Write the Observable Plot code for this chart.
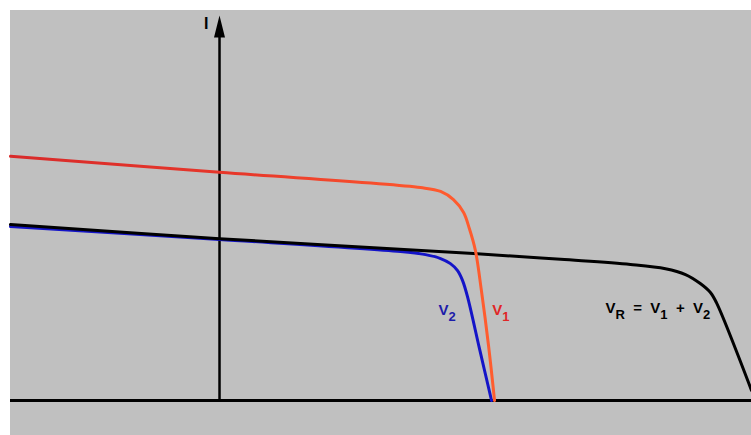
<!DOCTYPE html>
<html>
<head>
<meta charset="utf-8">
<script src="https://cdn.jsdelivr.net/npm/d3@7"></script>
<script src="https://cdn.jsdelivr.net/npm/@observablehq/plot@0.6"></script>
<style>
  body { margin: 0; background: #ffffff; }
  #chart { position: absolute; left: 10px; top: 10px; }
</style>
</head>
<body>
<div id="chart"></div>
<script>
// Voltage (V) and current (I) samples
const v1V = [-7.63, 0, 7.34, 8.07, 8.54, 8.91, 9.12, 9.34, 9.56, 9.82, 10.04];
const v1I = [6.26, 5.85, 5.46, 5.36, 5.15, 4.82, 4.41, 3.85, 2.82, 1.41, 0];

const v2V = [-7.63, 0, 6.61, 7.52, 8.07, 8.43, 8.69, 8.87, 9.05, 9.49, 9.93];
const v2I = [4.46, 4.13, 3.82, 3.74, 3.64, 3.51, 3.33, 3.08, 2.67, 1.33, 0];

const vrV = [-7.63, 0, 9.27, 12.45, 15.00, 16.28, 17.01, 17.55, 17.92, 18.14, 19.42];
const vrI = [4.51, 4.15, 3.77, 3.62, 3.49, 3.38, 3.23, 3.00, 2.77, 2.51, 0.26];

const labelTexts = ["V_2", "V_1", "V_R  =  V_1  +  V_2"];
const labelV = [7.99, 9.96, 14.09];
const labelI = [2.32, 2.32, 2.37];

const axisLabel = "I";
const axisLabelV = -0.40;
const axisLabelI = 9.65;
const arrowTipI = 9.87;
const arrowBaseI = 9.33;

const xDomain = [-7.63, 19.42];
const yDomain = [0, 10];

const toRows = (vs, is) => vs.map((v, k) => ({V: v, I: is[k]}));
const v1 = toRows(v1V, v1I);
const v2 = toRows(v2V, v2I);
const vr = toRows(vrV, vrI);
const labelColors = ["#1c1caa", "#e02626", "#000000"];
const labels = labelTexts.map((t, k) => ({text: t, V: labelV[k], I: labelI[k], color: labelColors[k]}));

const arrowHead = {
  draw(context) {
    context.moveTo(0, 0);
    context.lineTo(5.5, 22);
    context.lineTo(-5.5, 22);
    context.closePath();
  }
};

const chart = Plot.plot({
  width: 741,
  height: 425,
  marginLeft: 0,
  marginRight: 0,
  marginTop: 0,
  marginBottom: 35,
  x: {domain: xDomain, axis: null},
  y: {domain: yDomain, axis: null},
  style: {background: "#c0c0c0", overflow: "visible"},
  marks: [
    Plot.ruleY([0], {stroke: "#000", strokeWidth: 3}),
    Plot.ruleX([0], {y1: 0, y2: arrowBaseI, stroke: "#000", strokeWidth: 2.5}),
    Plot.dot([{V: 0, I: arrowTipI}], {x: "V", y: "I", symbol: arrowHead, fill: "#000", stroke: "none"}),
    Plot.text([{V: axisLabelV, I: axisLabelI}], {x: "V", y: "I", text: () => axisLabel, textAnchor: "end", fontSize: 16, fontWeight: "bold", fill: "#000", fontFamily: "Liberation Sans"}),
    Plot.line(v2, {x: "V", y: "I", stroke: "#1414c8", strokeWidth: 3, curve: "catmull-rom"}),
    Plot.line(vr, {x: "V", y: "I", stroke: "#000000", strokeWidth: 3, curve: "catmull-rom"}),
    Plot.line(v1, {x: "V", y: "I", stroke: "#ee4a2a", strokeWidth: 3, curve: "catmull-rom"}),
    Plot.text(labels, {x: "V", y: "I", text: "text", textAnchor: "start", fontSize: 15, fontWeight: "bold", fontFamily: "Liberation Sans", fill: "color"})
  ]
});

document.getElementById("chart").appendChild(chart);

const svgNS = "http://www.w3.org/2000/svg";
try {
  // gradient red -> orange for V1 curve
  const defs = document.createElementNS(svgNS, "defs");
  const grad = document.createElementNS(svgNS, "linearGradient");
  grad.setAttribute("id", "v1grad");
  grad.setAttribute("gradientUnits", "userSpaceOnUse");
  grad.setAttribute("x1", "0"); grad.setAttribute("x2", "741");
  grad.setAttribute("y1", "0"); grad.setAttribute("y2", "0");
  [["0", "#d82a2a"], ["0.32", "#e8382a"], ["0.58", "#ff5a2e"], ["1", "#ff6a30"]].forEach(([o, c]) => {
    const s = document.createElementNS(svgNS, "stop");
    s.setAttribute("offset", o); s.setAttribute("stop-color", c);
    grad.appendChild(s);
  });
  defs.appendChild(grad);
  chart.insertBefore(defs, chart.firstChild);
  const lineGroups = chart.querySelectorAll('g[aria-label="line"]');
  if (lineGroups.length >= 3) {
    const g = lineGroups[2];
    g.setAttribute("stroke", "url(#v1grad)");
    g.querySelectorAll("path").forEach(p => p.setAttribute("stroke", "url(#v1grad)"));
  }
} catch (e) { console.error(e); }

// subscripts
const textGroups = chart.querySelectorAll('g[aria-label="text"]');
const labelGroup = textGroups[textGroups.length - 1];
labelGroup.querySelectorAll("text").forEach(t => {
  const s = t.textContent;
  t.textContent = "";
  t.style.whiteSpace = "pre";
  let buf = "";
  let shifted = false;
  const flush = () => {
    if (!buf) return;
    const ts = document.createElementNS(svgNS, "tspan");
    ts.textContent = buf;
    if (shifted) { ts.setAttribute("dy", "-6"); shifted = false; }
    t.appendChild(ts);
    buf = "";
  };
  for (let k = 0; k < s.length; k++) {
    if (s[k] === "_" && k + 1 < s.length) {
      flush();
      const sub = document.createElementNS(svgNS, "tspan");
      sub.textContent = s[k + 1];
      sub.setAttribute("font-size", "13");
      sub.setAttribute("dy", shifted ? "0" : "6");
      t.appendChild(sub);
      shifted = true;
      k++;
    } else {
      buf += s[k];
    }
  }
  flush();
});
</script>
</body>
</html>
